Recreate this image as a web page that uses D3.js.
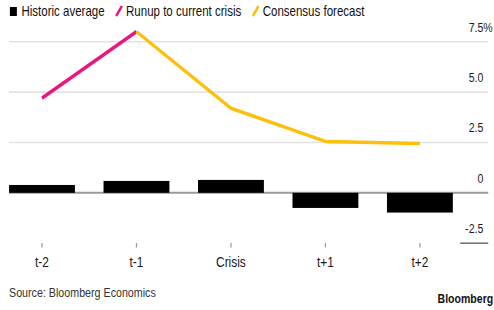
<!DOCTYPE html>
<html>
<head>
<meta charset="utf-8">
<script src="https://cdn.jsdelivr.net/npm/d3@7"></script>
<style>
  html, body { margin: 0; padding: 0; background: #fff; }
  svg { display: block; font-family: "Liberation Sans", Arial, sans-serif; }
</style>
</head>
<body>
<svg id="chart" width="494" height="310"></svg>
<script>
// data
var periods = ['t-2', 't-1', 'Crisis', 't+1', 't+2'];
var historic = [0.39, 0.59, 0.64, -0.75, -0.98];
var runupPeriods = ['t-2', 't-1'];
var runup = [4.7, 8.0];
var forecastPeriods = ['t-1', 'Crisis', 't+1', 't+2'];
var forecast = [8.0, 4.2, 2.55, 2.45];
var yTicks = [-2.5, 0, 2.5, 5.0, 7.5];
var legendItems = ['Historic average', 'Runup to current crisis', 'Consensus forecast'];

// the picture looks squeezed sideways, so draw on a wider canvas and squash it
var W = 600, H = 310;
var svg = d3.select('#chart')
    .attr('viewBox', '0 0 ' + W + ' ' + H)
    .attr('preserveAspectRatio', 'none');

var pink = '#e8177d', yellow = '#fcbf0b';

var x = d3.scalePoint().domain(periods).range([51, 510]);
var barW = 80;
var y = d3.scaleLinear().domain([-2.5, 7.5]).range([243.2, 41.7]);
var gridL = 11, gridR = 593, labelR = 587;

// grid lines (the -2.5 one is only a short stub under its label)
svg.selectAll('line.grid').data(yTicks).enter().append('line')
    .attr('class', 'grid')
    .attr('x1', d => d === -2.5 ? 559 : gridL)
    .attr('x2', gridR)
    .attr('y1', d => y(d)).attr('y2', d => y(d))
    .attr('stroke', d => d === 0 ? '#9a9a9a' : (d === -2.5 ? '#777' : '#e3e3e3'))
    .attr('stroke-width', d => d === 0 ? 2 : 1.6);

// y labels, numbers right aligned, % hangs past
svg.selectAll('text.ylab').data(yTicks).enter().append('text')
    .attr('class', 'ylab')
    .attr('x', labelR)
    .attr('y', d => y(d) - 10)
    .attr('text-anchor', 'end')
    .attr('font-size', 12.8)
    .attr('fill', '#1a1a1a')
    .text(d => d === 0 ? '0' : d3.format('.1f')(d).replace('\u2212', '-'));
svg.append('text')
    .attr('x', labelR).attr('y', y(7.5) - 10)
    .attr('font-size', 12.8).attr('fill', '#1a1a1a')
    .text('%');

// bars
svg.selectAll('rect.bar').data(historic).enter().append('rect')
    .attr('class', 'bar')
    .attr('x', (d, i) => x(periods[i]) - barW / 2)
    .attr('width', barW)
    .attr('y', d => y(Math.max(0, d)))
    .attr('height', d => Math.abs(y(d) - y(0)))
    .attr('fill', '#000');

// lines
var line = d3.line().x(d => x(d[0])).y(d => y(d[1]));
svg.append('path')
    .datum(runupPeriods.map((p, i) => [p, runup[i]]))
    .attr('d', line).attr('fill', 'none')
    .attr('stroke', pink).attr('stroke-width', 3.5).attr('stroke-linejoin', 'round');
svg.append('path')
    .datum(forecastPeriods.map((p, i) => [p, forecast[i]]))
    .attr('d', line).attr('fill', 'none')
    .attr('stroke', yellow).attr('stroke-width', 3.5).attr('stroke-linejoin', 'round');

// x ticks and labels
var xa = svg.append('g');
xa.selectAll('line').data(periods).enter().append('line')
    .attr('x1', d => x(d)).attr('x2', d => x(d))
    .attr('y1', 243).attr('y2', 247.5)
    .attr('stroke', '#999').attr('stroke-width', 1.5);
xa.selectAll('text').data(periods).enter().append('text')
    .attr('x', d => x(d)).attr('y', 267)
    .attr('text-anchor', 'middle')
    .attr('font-size', 14.5).attr('fill', '#1a1a1a')
    .text(d => d);

// legend
var lg = svg.append('g');
var lx = 12;
legendItems.forEach(function (name, i) {
    if (i === 0) {
        lg.append('rect').attr('x', lx).attr('y', 7).attr('width', 8.5).attr('height', 9).attr('fill', '#000');
        lx += 14;
    } else {
        lg.append('line')
            .attr('x1', lx).attr('y1', 16).attr('x2', lx + 7).attr('y2', 6)
            .attr('stroke', i === 1 ? pink : yellow).attr('stroke-width', 3);
        lx += 12;
    }
    var t = lg.append('text').attr('x', lx).attr('y', 16)
        .attr('font-size', 14).attr('fill', '#111').text(name);
    lx += t.node().getComputedTextLength() + 14;
});

// footer
svg.append('text').attr('x', 11).attr('y', 297)
    .attr('font-size', 13).attr('fill', '#333')
    .text('Source: Bloomberg Economics');
svg.append('text').attr('x', W - 1).attr('y', 303)
    .attr('text-anchor', 'end')
    .attr('font-size', 12.8).attr('font-weight', 'bold').attr('fill', '#111')
    .text('Bloomberg');
</script>
</body>
</html>
